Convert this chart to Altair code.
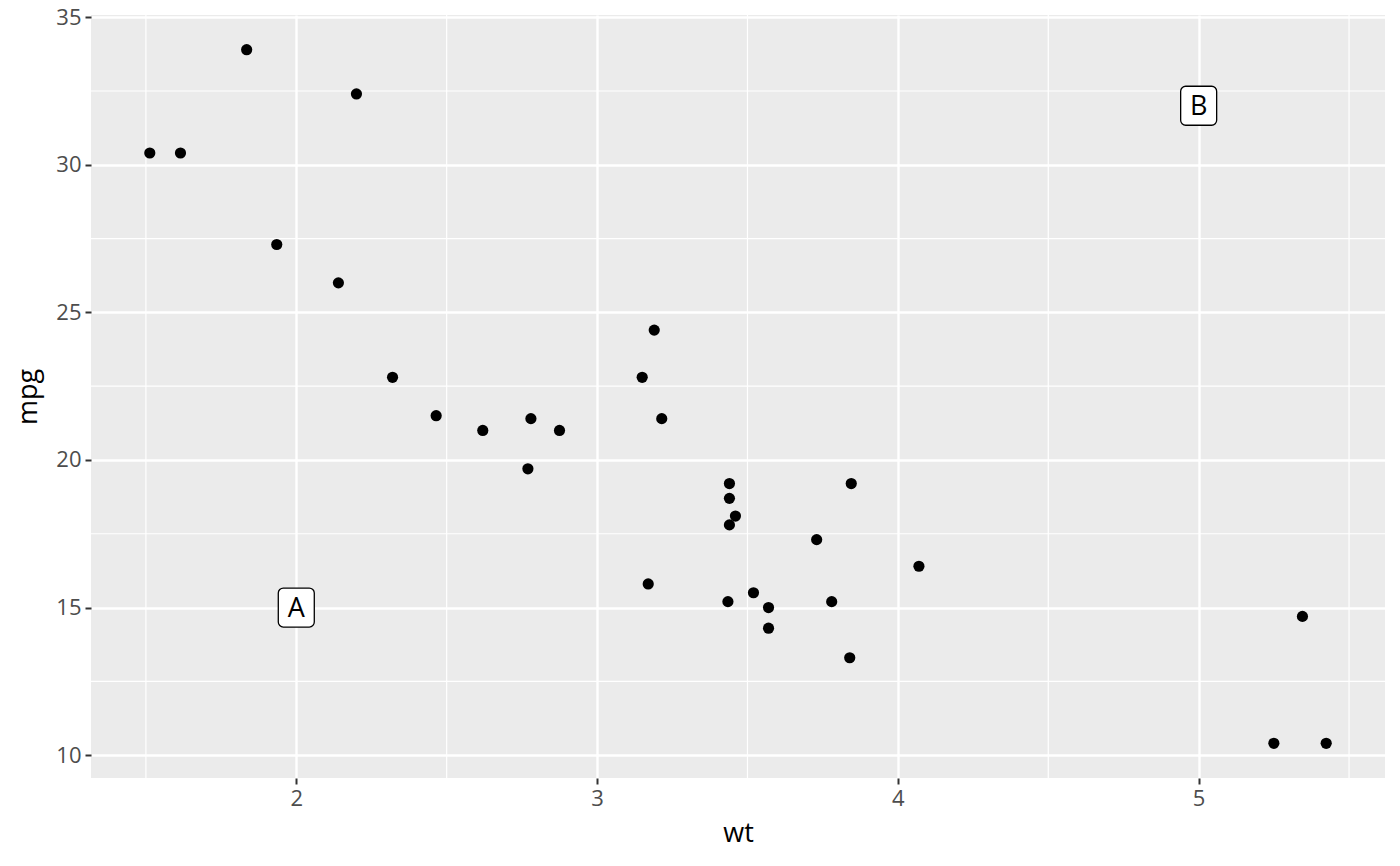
import pandas as pd
import altair as alt

# mtcars: weight (1000 lbs) and miles per gallon
wt = [2.620, 2.875, 2.320, 3.215, 3.440, 3.460, 3.570, 3.190, 3.150, 3.440,
      3.440, 4.070, 3.730, 3.780, 5.250, 5.424, 5.345, 2.200, 1.615, 1.835,
      2.465, 3.520, 3.435, 3.840, 3.845, 1.935, 2.140, 1.513, 3.170, 2.770,
      3.570, 2.780]
mpg = [21.0, 21.0, 22.8, 21.4, 18.7, 18.1, 14.3, 24.4, 22.8, 19.2,
       17.8, 16.4, 17.3, 15.2, 10.4, 10.4, 14.7, 32.4, 30.4, 33.9,
       21.5, 15.5, 15.2, 13.3, 19.2, 27.3, 26.0, 30.4, 15.8, 19.7,
       15.0, 21.4]

# annotation labels
label_text = ['A', 'B']
label_x = [2, 5]
label_y = [15, 32]

x_major = [2, 3, 4, 5]
x_minor = [1.5, 2.5, 3.5, 4.5, 5.5]
y_major = [10, 15, 20, 25, 30, 35]
y_minor = [12.5, 17.5, 22.5, 27.5, 32.5]

cars = pd.DataFrame({'wt': wt, 'mpg': mpg})
labels = pd.DataFrame({'wt': label_x, 'mpg': label_y, 'label': label_text})

x_scale = alt.Scale(domain=[1.3175, 5.6195], nice=False, zero=False)
y_scale = alt.Scale(domain=[9.225, 35.075], nice=False, zero=False)

axis_style = dict(grid=True, gridColor='white', gridWidth=2.4, domain=False,
                  tickColor='#333333', tickWidth=2, tickSize=6, format='d',
                  labelColor='#4D4D4D', labelFont='Open Sans', labelFontSize=22,
                  labelPadding=4, titleFont='Open Sans', titleFontSize=27,
                  titleFontWeight='normal', titleColor='black')

xmin = alt.Chart(pd.DataFrame({'v': x_minor})).mark_rule(
    color='white', strokeWidth=1.2).encode(x=alt.X('v:Q', scale=x_scale, title='wt'))
ymin = alt.Chart(pd.DataFrame({'v': y_minor})).mark_rule(
    color='white', strokeWidth=1.2).encode(y=alt.Y('v:Q', scale=y_scale, title='mpg'))

points = alt.Chart(cars).mark_circle(size=125, color='black', opacity=1).encode(
    x=alt.X('wt:Q', scale=x_scale, title='wt',
            axis=alt.Axis(values=x_major, titlePadding=11, **axis_style)),
    y=alt.Y('mpg:Q', scale=y_scale, title='mpg',
            axis=alt.Axis(values=y_major, titlePadding=13, **axis_style)),
)

boxes = alt.Chart(labels).mark_rect(
    width=36, height=39, cornerRadius=5, fill='white', stroke='black', strokeWidth=1.3
).encode(x=alt.X('wt:Q', scale=x_scale, title='wt'),
         y=alt.Y('mpg:Q', scale=y_scale, title='mpg'))

texts = alt.Chart(labels).mark_text(
    font='Open Sans', fontSize=27, color='black', baseline='middle', dy=1
).encode(x=alt.X('wt:Q', scale=x_scale, title='wt'),
         y=alt.Y('mpg:Q', scale=y_scale, title='mpg'),
         text='label:N')

chart = alt.layer(xmin, ymin, points, boxes, texts).properties(
    width=1294, height=763,
    autosize=alt.AutoSizeParams(type='none'),
    padding={'left': 83, 'top': 7, 'right': 7, 'bottom': 80},
).configure_view(fill='#EBEBEB', stroke=None)

chart.save("out.html", embed_options={"renderer": "svg", "actions": False})
